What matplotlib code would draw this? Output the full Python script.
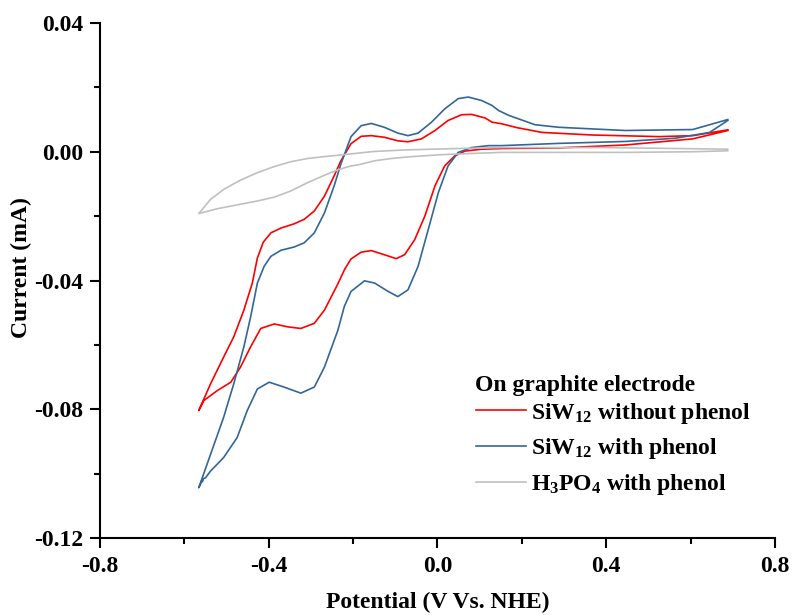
import numpy as np
import matplotlib
matplotlib.use("Agg")
import matplotlib.pyplot as plt

plt.rcParams['font.family'] = ['Liberation Serif', 'DejaVu Serif']
plt.rcParams['font.weight'] = 'bold'
plt.rcParams['mathtext.fontset'] = 'custom'
plt.rcParams['mathtext.rm'] = 'Liberation Serif:bold'
plt.rcParams['mathtext.bf'] = 'Liberation Serif:bold'
plt.rcParams['mathtext.it'] = 'Liberation Serif:bold'

# SiW12 sin fenol: barrido catodico (derecha -> izquierda) y luego anodico
rojo_v = [0.688, 0.605, 0.445, 0.288, 0.152, 0.105, 0.065, 0.041, 0.017, -0.006, -0.030, -0.054,
          -0.078, -0.098, -0.126, -0.157, -0.181, -0.205, -0.220, -0.236, -0.268, -0.292, -0.324,
          -0.355, -0.387, -0.419, -0.443, -0.467, -0.490, -0.522, -0.554, -0.566,
          -0.538, -0.507, -0.483, -0.459, -0.439, -0.427, -0.413, -0.395, -0.371, -0.340, -0.316, -0.292,
          -0.268, -0.245, -0.229, -0.205, -0.181, -0.157, -0.126, -0.094, -0.070, -0.038, -0.006,
          0.025, 0.057, 0.081, 0.113, 0.129, 0.152, 0.188, 0.248, 0.367, 0.526, 0.605, 0.688]
rojo_i = [0.0066, 0.0040, 0.0021, 0.0012, 0.0010, 0.0008, 0.0002, -0.0013, -0.0044, -0.0106, -0.0200, -0.0273,
          -0.0320, -0.0332, -0.0320, -0.0307, -0.0312, -0.0333, -0.0365, -0.0410, -0.0492, -0.0533, -0.0549,
          -0.0544, -0.0535, -0.0549, -0.0606, -0.0669, -0.0716, -0.0742, -0.0773, -0.0804,
          -0.0721, -0.0638, -0.0575, -0.0492, -0.0408, -0.0330, -0.0281, -0.0252, -0.0237, -0.0224, -0.0210, -0.0184,
          -0.0138, -0.0075, -0.0028, 0.0025, 0.0048, 0.0050, 0.0045, 0.0034, 0.0031, 0.0040, 0.0066,
          0.0097, 0.0115, 0.0116, 0.0105, 0.0092, 0.0087, 0.0075, 0.0060, 0.0052, 0.0047, 0.0050, 0.0068]

# SiW12 con fenol
azul_v = [0.688, 0.645, 0.564, 0.445, 0.288, 0.152, 0.121, 0.081, 0.049, 0.025, 0.002, -0.022,
          -0.046, -0.070, -0.094, -0.117, -0.149, -0.173, -0.205, -0.221, -0.236, -0.268, -0.292,
          -0.324, -0.364, -0.399, -0.427, -0.451, -0.475, -0.507, -0.538, -0.550, -0.555, -0.557,
          -0.559, -0.562, -0.566,
          -0.538, -0.507, -0.483, -0.459, -0.443, -0.427, -0.411, -0.395, -0.371, -0.340, -0.316,
          -0.292, -0.268, -0.245, -0.229, -0.205, -0.181, -0.157, -0.126, -0.094, -0.070, -0.046,
          -0.014, 0.017, 0.049, 0.073, 0.105, 0.129, 0.145, 0.169, 0.231, 0.288, 0.445, 0.605, 0.688]
azul_i = [0.0097, 0.0060, 0.0042, 0.0032, 0.0026, 0.0019, 0.0019, 0.0013, -0.0002, -0.0044, -0.0127, -0.0242,
          -0.0356, -0.0429, -0.0450, -0.0434, -0.0408, -0.0401, -0.0434, -0.0481, -0.0554, -0.0669, -0.0731,
          -0.0750, -0.0731, -0.0716, -0.0737, -0.0804, -0.0888, -0.0950, -0.0992, -0.1013, -0.1016, -0.1025,
          -0.1022, -0.1033, -0.1044,
          -0.0940, -0.0825, -0.0721, -0.0606, -0.0513, -0.0408, -0.0356, -0.0325, -0.0306, -0.0296, -0.0283,
          -0.0252, -0.0190, -0.0106, -0.0038, 0.0047, 0.0081, 0.0088, 0.0076, 0.0058, 0.0050, 0.0058,
          0.0092, 0.0133, 0.0165, 0.0170, 0.0159, 0.0144, 0.0128, 0.0113, 0.0084, 0.0076, 0.0066, 0.0069, 0.0100]

# H3PO4 con fenol
gris_v = [0.688, 0.605, 0.445, 0.288, 0.152, 0.088, 0.010, -0.070, -0.110, -0.149, -0.189, -0.205,
          -0.236, -0.268, -0.308, -0.348, -0.387, -0.427, -0.467, -0.522, -0.566,
          -0.538, -0.507, -0.467, -0.427, -0.387, -0.348, -0.308, -0.268, -0.229, -0.150, -0.070,
          0.049, 0.152, 0.390, 0.688]
gris_i = [0.0003, 0.0000, -0.0002, -0.0002, -0.0002, -0.0005, -0.0009, -0.0016, -0.0021, -0.0028, -0.0041, -0.0044,
          -0.0056, -0.0073, -0.0096, -0.0122, -0.0141, -0.0153, -0.0163, -0.0177, -0.0192,
          -0.0148, -0.0117, -0.0088, -0.0065, -0.0046, -0.0031, -0.0021, -0.0015, -0.0010, 0.0001, 0.0006,
          0.0010, 0.0013, 0.0013, 0.0008]

titulo_leyenda = 'On graphite electrode'
etiquetas = [r'SiW$_{12}$ without phenol', r'SiW$_{12}$ with phenol', r'H$_3$PO$_4$ with phenol']
colores = ['#ff0000', '#336699', '#c0c0c0']

fig = plt.figure(figsize=(7.94, 6.15), dpi=100)
ax = fig.add_axes([0.126, 0.1252, 0.85, 0.8374])

ax.plot(rojo_v, rojo_i, color=colores[0], lw=1.2, label=etiquetas[0])
ax.plot(azul_v, azul_i, color=colores[1], lw=1.2, label=etiquetas[1])
ax.plot(gris_v, gris_i, color=colores[2], lw=1.2, label=etiquetas[2])

ax.set_xlim(-0.8, 0.8)
ax.set_ylim(-0.12, 0.04)
ax.set_xticks(np.arange(-0.8, 0.81, 0.4))
ax.set_xticks(np.arange(-0.6, 0.7, 0.4), minor=True)
ax.set_yticks(np.arange(-0.12, 0.041, 0.04))
ax.set_yticks(np.arange(-0.10, 0.03, 0.04), minor=True)
ax.set_xticklabels(['-0.8', '-0.4', '0.0', '0.4', '0.8'])
ax.set_yticklabels(['-0.12', '-0.08', '-0.04', '0.00', '0.04'])

for s in ['top', 'right']:
    ax.spines[s].set_visible(False)
for s in ['left', 'bottom']:
    ax.spines[s].set_linewidth(1.5)
ax.tick_params(which='major', length=7, width=1.5, labelsize=17, direction='out')
ax.tick_params(which='minor', length=4, width=1.5, direction='out')
ax.tick_params(axis='x', pad=6)
ax.tick_params(axis='y', pad=5)

ax.set_xlabel('Potential (V Vs. NHE)', fontsize=17, fontweight='bold')
ax.set_ylabel('Current (mA)', fontsize=17, fontweight='bold')
ax.xaxis.set_label_coords(0.5, -0.105)
ax.yaxis.set_label_coords(-0.101, 0.526)

ax.text(0.555, 0.296, titulo_leyenda, transform=ax.transAxes,
        fontsize=17, fontweight='bold', ha='left', va='center')
leg = ax.legend(frameon=False, fontsize=17, loc='upper left', bbox_to_anchor=(0.543, 0.285),
                handlelength=2.1, handletextpad=0.25, labelspacing=0.45, borderaxespad=0)

fig.savefig('out.png', dpi=100)
